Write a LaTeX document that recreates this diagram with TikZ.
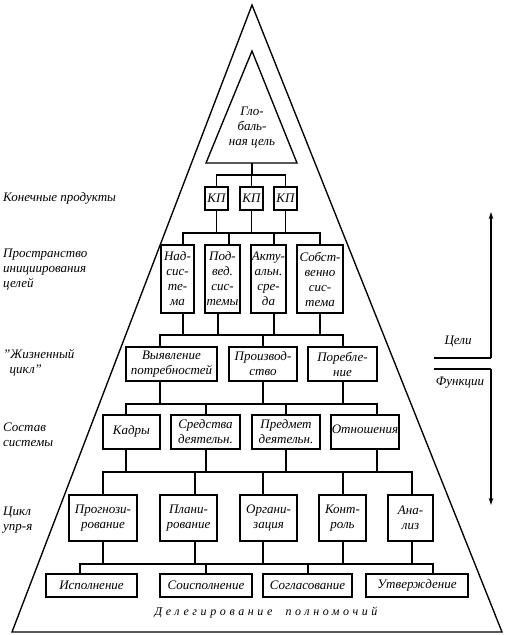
\documentclass[tikz,border=0pt]{standalone}
\usepackage{fontspec}
\setmainfont{Liberation Serif}
\newfontfamily\spacedfont[LetterSpace=30]{Liberation Serif}
\usetikzlibrary{arrows.meta}
\begin{document}
\begin{tikzpicture}[x=1pt,y=-1pt,
  font=\fontsize{13}{15}\selectfont\itshape,
  box/.style={draw, line width=1.35pt, inner sep=0pt, align=center},
  wh/.style 2 args={minimum width=#1pt, minimum height=#2pt},
  ln/.style={line width=1.35pt},
  lab/.style={anchor=west, align=left, inner sep=0pt},
  arr/.style={line width=1.1pt, -{Stealth[length=7pt,width=4.5pt]}}]
\useasboundingbox (0,0) rectangle (508,635);

% outer and inner triangles
\draw[ln] (252,5) -- (12,632) -- (502,632) -- cycle;
\draw[ln] (252,51) -- (206,163) -- (297,163) -- cycle;
\node[align=center, inner sep=0pt] (goal) at (252,128) {Гло-\\баль-\\ная цель};
\coordinate (gbase) at (252,163);

% bus levels
\coordinate (bus1) at (0,175);
\coordinate (bus2) at (0,233);
\coordinate (bus3) at (0,335);
\coordinate (bus4) at (0,404);
\coordinate (bus5) at (0,472);
\coordinate (bus6) at (0,564);

% row 1: KP
\node[box, wh={23}{23}] (kp1) at (216.5,198.5) {КП};
\node[box, wh={23}{23}] (kp2) at (251.5,198.5) {КП};
\node[box, wh={23}{23}] (kp3) at (285.5,198.5) {КП};

% row 2
\node[box, wh={33}{68}] (b1) at (177.5,279) {Над-\\сис-\\те-\\ма};
\node[box, wh={35}{68}] (b2) at (222.5,279) {Под-\\вед.\\сис-\\темы};
\node[box, wh={35}{68}] (b3) at (268.5,279) {Акту-\\альн.\\сре-\\да};
\node[box, wh={46}{68}] (b4) at (320,279) {Собст-\\венно\\сис-\\тема};

% row 3
\node[box, wh={91}{34}] (l1) at (171.5,364) {Выявление\\потребностей};
\node[box, wh={68}{34}] (l2) at (263,364) {Производ-\\ство};
\node[box, wh={69}{34}] (l3) at (342.5,364) {Поребле-\\ние};

% row 4
\node[box, wh={57}{34}] (s1) at (131.5,432) {\raisebox{5pt}{Кадры}};
\node[box, wh={69}{34}] (s2) at (205.5,432) {Средства\\деятельн.};
\node[box, wh={68}{34}] (s3) at (286,432) {Предмет\\деятельн.};
\node[box, wh={68}{34}] (s4) at (365,432) {\raisebox{5pt}{Отношения}};

% row 5
\node[box, wh={68}{46}] (c1) at (103,518) {Прогнози-\\рование};
\node[box, wh={57}{46}] (c2) at (188.5,518) {Плани-\\рование};
\node[box, wh={57}{46}] (c3) at (268.5,518) {Органи-\\зация};
\node[box, wh={47}{46}] (c4) at (342.5,518) {Конт-\\роль};
\node[box, wh={45}{46}] (c5) at (410.5,518) {Ана-\\лиз};

% row 6
\node[box, wh={91}{23}] (d1) at (91.5,585.5) {Исполнение};
\node[box, wh={92}{23}] (d2) at (206,585.5) {Соисполнение};
\node[box, wh={89}{23}] (d3) at (307.5,585.5) {Согласование};
\node[box, wh={102}{23}] (d4) at (417,585.5) {Утверждение};

% connectors level 1
\draw[ln] (gbase) -- (gbase |- bus1);
\draw[ln] (kp1.north) -- (kp1.north |- bus1) -- (kp3.north |- bus1) -- (kp3.north);
\draw[ln] (kp2.north) -- (kp2.north |- bus1);

% level 2
\draw[ln] (kp1.south) -- (kp1.south |- bus2);
\draw[ln] (kp2.south) -- (kp2.south |- bus2);
\draw[ln] (kp3.south) -- (kp3.south |- bus2);
\draw[ln] ([xshift=5.5pt]b1.north) -- ([xshift=5.5pt]b1.north |- bus2) -- (b4.north |- bus2) -- (b4.north);
\draw[ln] ([xshift=6.5pt]b2.north) -- ([xshift=6.5pt]b2.north |- bus2);
\draw[ln] ([xshift=5.5pt]b3.north) -- ([xshift=5.5pt]b3.north |- bus2);

% level 3
\draw[ln] ([xshift=5.5pt]b1.south) -- ([xshift=5.5pt]b1.south |- bus3);
\draw[ln] ([xshift=-4.5pt]b2.south) -- ([xshift=-4.5pt]b2.south |- bus3);
\draw[ln] ([xshift=5.5pt]b3.south) -- ([xshift=5.5pt]b3.south |- bus3);
\draw[ln] (b4.south) -- (b4.south |- bus3);
\draw[ln] ([xshift=-11.5pt]l1.north) -- ([xshift=-11.5pt]l1.north |- bus3) -- ([xshift=0.5pt]l3.north |- bus3) -- ([xshift=0.5pt]l3.north);
\draw[ln] (l2.north) -- (l2.north |- bus3);

% level 4
\draw[ln] ([xshift=-11.5pt]l1.south) -- ([xshift=-11.5pt]l1.south |- bus4);
\draw[ln] (l2.south) -- (l2.south |- bus4);
\draw[ln] ([xshift=0.5pt]l3.south) -- ([xshift=0.5pt]l3.south |- bus4);
\draw[ln] ([xshift=-5.5pt]s1.north) -- ([xshift=-5.5pt]s1.north |- bus4) -- ([xshift=12pt]s4.north |- bus4) -- ([xshift=12pt]s4.north);
\draw[ln] ([xshift=0.5pt]s2.north) -- ([xshift=0.5pt]s2.north |- bus4);
\draw[ln] (s3.north) -- (s3.north |- bus4);

% level 5
\draw[ln] ([xshift=-5.5pt]s1.south) -- ([xshift=-5.5pt]s1.south |- bus5);
\draw[ln] ([xshift=0.5pt]s2.south) -- ([xshift=0.5pt]s2.south |- bus5);
\draw[ln] (s3.south) -- (s3.south |- bus5);
\draw[ln] ([xshift=12pt]s4.south) -- ([xshift=12pt]s4.south |- bus5);
\draw[ln] (c1.north) -- (c1.north |- bus5) -- ([xshift=1.5pt]c5.north |- bus5) -- ([xshift=1.5pt]c5.north);
\draw[ln] ([xshift=6.5pt]c2.north) -- ([xshift=6.5pt]c2.north |- bus5);
\draw[ln] ([xshift=-5.5pt]c3.north) -- ([xshift=-5.5pt]c3.north |- bus5);
\draw[ln] ([xshift=0.5pt]c4.north) -- ([xshift=0.5pt]c4.north |- bus5);

% level 6
\draw[ln] (c1.south) -- (c1.south |- bus6);
\draw[ln] ([xshift=6.5pt]c2.south) -- ([xshift=6.5pt]c2.south |- bus6);
\draw[ln] ([xshift=-5.5pt]c3.south) -- ([xshift=-5.5pt]c3.south |- bus6);
\draw[ln] ([xshift=0.5pt]c4.south) -- ([xshift=0.5pt]c4.south |- bus6);
\draw[ln] ([xshift=1.5pt]c5.south) -- ([xshift=1.5pt]c5.south |- bus6);
\draw[ln] ([xshift=-11.5pt]d1.north) -- ([xshift=-11.5pt]d1.north |- bus6) -- ([xshift=16pt]d4.north |- bus6) -- ([xshift=16pt]d4.north);
\draw[ln] (d2.north) -- (d2.north |- bus6);
\draw[ln] ([xshift=0.5pt]d3.north) -- ([xshift=0.5pt]d3.north |- bus6);

% bottom caption
\node[inner sep=0pt] (deleg) at (266,613) {\fontsize{12}{14}\spacedfont\itshape Делегирование \ полномочий};

% left labels
\node[lab] (t1) at (3,198) {Конечные продукты};
\node[lab] (t2) at (3,270) {Пространство\\инициирования\\целей};
\node[lab] (t3) at (3,362.5) {"Жизненный\\\ \ цикл"};
\node[lab] (t4) at (3,434.5) {Состав\\системы};
\node[lab] (t5) at (3,520.5) {Цикл\\упр-я};

% right brackets and arrows
\coordinate (gtop) at (491,212);
\coordinate (gcorner) at (491,358);
\coordinate (gleft) at (434,358);
\coordinate (fleft) at (434,369);
\coordinate (fcorner) at (491,369);
\coordinate (fbot) at (491,505);
\draw[ln] (gleft) -- (gcorner);
\draw[arr] (gcorner) -- (gtop);
\draw[ln] (fleft) -- (fcorner);
\draw[arr] (fcorner) -- (fbot);
\node[inner sep=0pt] (goals) at (458,342) {Цели};
\node[inner sep=0pt] (funcs) at (460,383) {Функции};
\end{tikzpicture}
\end{document}
